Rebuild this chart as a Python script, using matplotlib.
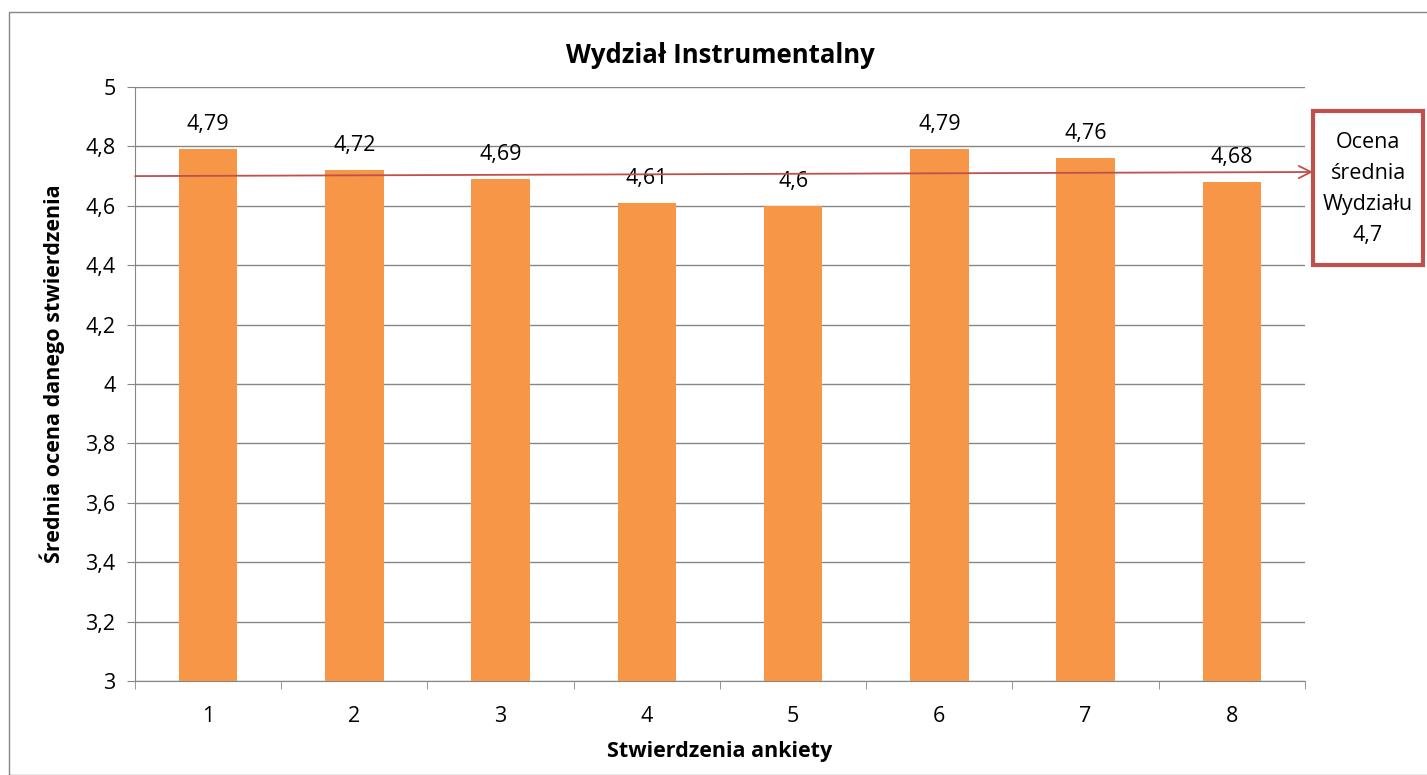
import matplotlib
matplotlib.use("Agg")
import matplotlib.pyplot as plt
from matplotlib.patches import Rectangle

categories = ["1", "2", "3", "4", "5", "6", "7", "8"]
values = [4.79, 4.72, 4.69, 4.61, 4.6, 4.79, 4.76, 4.68]
labels = ["4,79", "4,72", "4,69", "4,61", "4,6", "4,79", "4,76", "4,68"]
mean_value = 4.7
yticks = [3, 3.2, 3.4, 3.6, 3.8, 4, 4.2, 4.4, 4.6, 4.8, 5]
ytick_labels = ["3", "3,2", "3,4", "3,6", "3,8", "4", "4,2", "4,4", "4,6", "4,8", "5"]

plt.rcParams['font.family'] = ['Open Sans', 'DejaVu Sans']

W, H = 1427, 775
fig = plt.figure(figsize=(W / 100, H / 100), dpi=100)
ax = fig.add_axes([135 / W, 1 - 681 / H, (1305 - 135) / W, (681 - 87) / H])

FS = 15.5
x = list(range(len(categories)))
ax.bar(x, values, width=0.4, color="#F79646", zorder=3)
for xi, v, lab in zip(x, values, labels):
    ax.annotate(lab, (xi, v), xytext=(0, 10), textcoords="offset points",
                ha="center", va="bottom", fontsize=FS)

ax.set_xlim(-0.5, len(categories) - 0.5)
ax.set_ylim(3, 5)
ax.set_yticks(yticks)
ax.set_yticklabels(ytick_labels, fontsize=FS)
ax.set_xticks(x)
ax.set_xticklabels(categories, fontsize=FS)
ax.set_xticks([i - 0.5 for i in range(len(categories) + 1)], minor=True)
ax.tick_params(axis="x", which="major", length=0, pad=18)
ax.tick_params(axis="x", which="minor", length=6, color="#868686", direction="out")
ax.tick_params(axis="y", length=6, color="#868686", pad=8)
ax.grid(axis="y", color="#868686", linewidth=1, zorder=0)
for s in ["top", "right"]:
    ax.spines[s].set_visible(False)
ax.spines["left"].set_color("#868686")
ax.spines["bottom"].set_color("#868686")

ax.set_title("Wydział Instrumentalny", fontsize=18.5, fontweight="bold", pad=17)
ax.set_ylabel("Średnia ocena danego stwierdzenia", fontsize=FS, fontweight="bold")
ax.yaxis.set_label_coords((52 - 135) / (1305 - 135), (681 - 374) / (681 - 87))
ax.set_xlabel("Stwierdzenia ankiety", fontsize=FS, fontweight="bold")
ax.xaxis.set_label_coords(0.5, -(752 - 681) / (681 - 87))
ax.xaxis.label.set_va("center")
ax.yaxis.label.set_va("center")

# mean line with arrow to the box
ax.annotate("", xy=(1313 / W, 1 - 172 / H), xycoords="figure fraction",
            xytext=(-0.5, mean_value), textcoords="data",
            arrowprops=dict(arrowstyle="->", color="#C0504D", lw=1.3,
                            mutation_scale=22, shrinkA=0, shrinkB=0),
            annotation_clip=False, zorder=5)

# box
box = Rectangle((1313 / W, 1 - 265 / H), (1423 - 1313) / W, (265 - 111) / H,
                transform=fig.transFigure, facecolor="white",
                edgecolor="#C0504D", linewidth=3)
fig.patches.append(box)
fig.text((1313 + 1423) / 2 / W, 1 - 189 / H, "Ocena\nśrednia\nWydziału\n4,7",
         ha="center", va="center", fontsize=FS, linespacing=1.62)

# outer border
border = Rectangle((9 / W, 0), (W - 9) / W + 0.01, 1 - 12 / H,
                   transform=fig.transFigure, facecolor="none",
                   edgecolor="#868686", linewidth=1)
fig.patches.append(border)

fig.savefig("out.png", dpi=100)
